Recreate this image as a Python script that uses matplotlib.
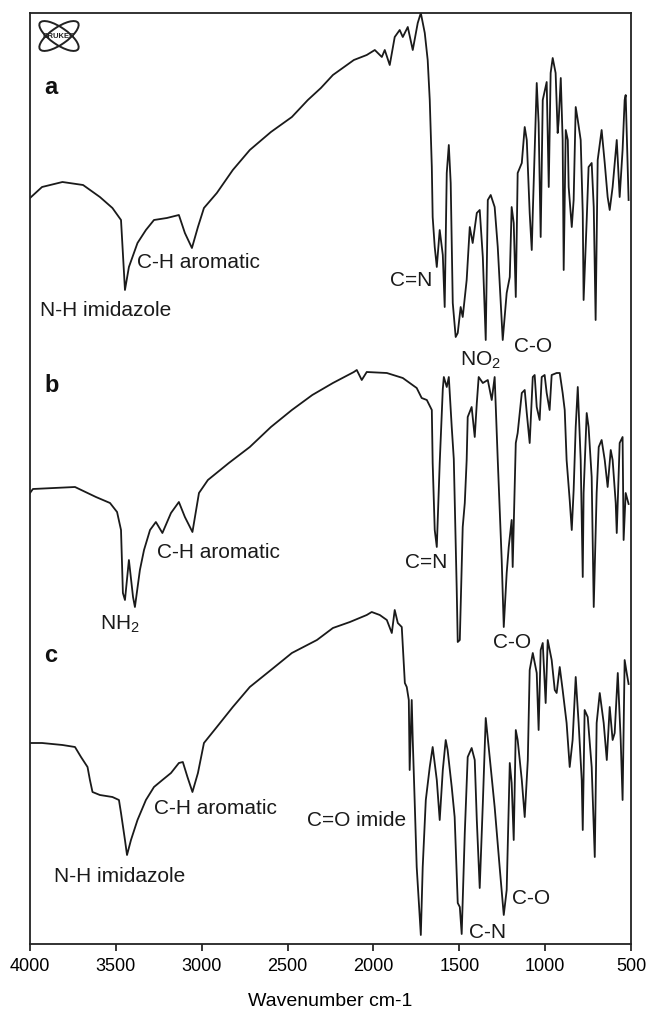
"""
plot.py
──────────
FT-IR spectra of three samples (a, b, c), stacked in one frame.
Saves out.png (648x1014).
"""

import matplotlib
matplotlib.use("Agg")
import matplotlib.pyplot as plt
from matplotlib.patches import Ellipse

plt.rcParams["font.family"] = ["Liberation Sans", "DejaVu Sans"]

# ── data (wavenumber cm-1, transmittance in arbitrary offset units) ──

a_wn = [4000, 3930, 3811, 3691, 3593, 3520, 3470, 3447, 3424, 3374,
        3325, 3278, 3203, 3133, 3098, 3057, 3022, 2987, 2912, 2819,
        2720, 2597, 2475, 2382, 2306, 2236, 2114, 2039, 1992, 1951,
        1934, 1905, 1876, 1847, 1829, 1800, 1771, 1742, 1724, 1701,
        1684, 1672, 1660, 1655, 1643, 1631, 1614, 1596, 1585, 1573,
        1561, 1550, 1538, 1521, 1509, 1492, 1480, 1457, 1439, 1422,
        1398, 1381, 1363, 1346, 1334, 1317, 1294, 1276, 1247, 1224,
        1206, 1195, 1183, 1171, 1160, 1136, 1119, 1107, 1090, 1078,
        1072, 1049, 1038, 1026, 1014, 991, 979, 968, 956, 939,
        927, 921, 909, 898, 892, 880, 868, 863, 845, 834,
        822, 810, 793, 781, 776, 758, 747, 729, 717, 706,
        694, 671, 653, 636, 624, 607, 583, 566, 549, 537,
        531, 514]
a_t = [746, 757, 762, 759, 747, 736, 724, 654, 677, 701,
       714, 724, 726, 729, 711, 696, 717, 736, 751, 774,
       794, 812, 827, 844, 856, 869, 884, 889, 894, 887,
       894, 879, 907, 914, 907, 917, 894, 921, 931, 911,
       884, 844, 777, 727, 697, 677, 714, 689, 637, 771,
       799, 761, 641, 607, 611, 637, 627, 664, 717, 701,
       731, 734, 687, 604, 744, 749, 737, 697, 604, 651,
       667, 737, 721, 647, 771, 781, 817, 804, 731, 694,
       731, 861, 821, 707, 844, 862, 757, 871, 886, 871,
       811, 824, 866, 804, 674, 814, 804, 757, 717, 744,
       837, 824, 804, 731, 644, 724, 777, 781, 737, 624,
       784, 814, 781, 747, 734, 757, 804, 747, 794, 844,
       849, 744]

b_wn = [4000, 3983, 3738, 3616, 3534, 3493, 3470, 3459, 3447, 3424,
        3400, 3389, 3360, 3336, 3301, 3267, 3229, 3179, 3133, 3098,
        3054, 3016, 2964, 2842, 2720, 2597, 2475, 2356, 2236, 2114,
        2097, 2068, 2039, 1922, 1829, 1748, 1719, 1689, 1660, 1655,
        1643, 1631, 1614, 1596, 1590, 1573, 1561, 1544, 1532, 1515,
        1509, 1497, 1480, 1468, 1457, 1451, 1428, 1410, 1398, 1387,
        1363, 1334, 1311, 1294, 1276, 1253, 1241, 1224, 1212, 1195,
        1189, 1171, 1160, 1136, 1119, 1107, 1090, 1072, 1061, 1049,
        1032, 1020, 1003, 991, 974, 962, 933, 915, 898, 886,
        875, 857, 845, 834, 822, 810, 793, 781, 776, 758,
        747, 729, 717, 700, 688, 671, 653, 636, 618, 607,
        589, 583, 566, 549, 543, 531, 514]
b_t = [451, 455, 457, 447, 441, 432, 414, 351, 344, 384,
       347, 337, 374, 394, 414, 422, 411, 431, 442, 427,
       412, 451, 464, 481, 497, 517, 534, 549, 561, 572,
       574, 564, 572, 571, 566, 556, 546, 544, 534, 481,
       414, 397, 481, 555, 567, 557, 567, 517, 485, 355,
       302, 304, 417, 441, 484, 527, 537, 507, 541, 567,
       561, 564, 544, 567, 484, 384, 317, 371, 397, 424,
       377, 501, 511, 551, 554, 531, 501, 567, 569, 537,
       524, 567, 569, 551, 534, 569, 571, 571, 551, 534,
       484, 444, 414, 454, 517, 557, 484, 367, 451, 531,
       517, 467, 337, 451, 497, 504, 484, 457, 494, 484,
       441, 411, 501, 507, 404, 451, 440]

c_wn = [4000, 3930, 3811, 3738, 3703, 3665, 3651, 3636, 3593, 3520,
        3482, 3470, 3447, 3435, 3412, 3374, 3325, 3278, 3229, 3179,
        3133, 3110, 3083, 3054, 3022, 2987, 2912, 2819, 2720, 2597,
        2475, 2329, 2236, 2137, 2039, 2010, 1963, 1922, 1893, 1876,
        1858, 1835, 1817, 1806, 1794, 1789, 1777, 1771, 1760, 1748,
        1724, 1713, 1695, 1672, 1655, 1631, 1614, 1596, 1579, 1568,
        1544, 1527, 1509, 1497, 1486, 1468, 1451, 1428, 1410, 1398,
        1381, 1363, 1346, 1323, 1294, 1264, 1241, 1224, 1206, 1195,
        1183, 1171, 1160, 1136, 1119, 1101, 1090, 1072, 1049, 1038,
        1026, 1014, 997, 985, 962, 944, 933, 915, 898, 875,
        857, 840, 822, 805, 787, 781, 770, 752, 729, 711,
        700, 682, 659, 641, 624, 607, 595, 577, 560, 549,
        537, 525, 514]
c_t = [201, 201, 199, 197, 187, 177, 164, 152, 149, 147,
       144, 131, 104, 89, 104, 124, 144, 157, 164, 171,
       181, 182, 167, 152, 171, 201, 217, 237, 257, 274,
       291, 304, 316, 322, 329, 332, 329, 324, 311, 334,
       321, 317, 261, 257, 244, 174, 244, 204, 144, 77,
       9, 77, 144, 177, 197, 164, 124, 174, 204, 194,
       157, 127, 41, 37, 10, 111, 187, 196, 184, 124,
       56, 140, 226, 187, 137, 75, 29, 54, 181, 161,
       104, 214, 204, 164, 127, 184, 274, 291, 271, 214,
       294, 301, 241, 304, 284, 254, 251, 277, 254, 221,
       177, 204, 267, 221, 164, 114, 234, 227, 177, 87,
       221, 251, 221, 184, 237, 204, 211, 271, 204, 144,
       284, 271, 260]

x_ticks = [4000, 3500, 3000, 2500, 2000, 1500, 1000, 500]

# band labels: (text, wavenumber, T, ha, va)
band_labels = [
    ("C-H aromatic", 3377, 681, "left", "center"),
    ("N-H imidazole", 3942, 634, "left", "center"),
    ("C=N", 1781, 664, "center", "center"),
    (r"$\mathregular{NO_2}$", 1379, 578, "center", "baseline"),
    ("C-O", 1071, 597, "center", "center"),
    ("C-H aromatic", 3260, 392, "left", "center"),
    (r"$\mathregular{NH_2}$", 3592, 314, "left", "baseline"),
    ("C=N", 1694, 381, "center", "center"),
    ("C-O", 1193, 302, "center", "center"),
    ("C-H aromatic", 3278, 136, "left", "center"),
    ("N-H imidazole", 3860, 67, "left", "center"),
    ("C=O imide", 2096, 124, "center", "center"),
    ("C-N", 1338, 11, "center", "center"),
    ("C-O", 1082, 46, "center", "center"),
]
panel_letters = [("a", 3918, 857), ("b", 3918, 559), ("c", 3918, 289)]


# ── figure ────────────────────────────────────────────────────

fig = plt.figure(figsize=(6.48, 10.14), dpi=100)
ax = fig.add_axes([30 / 648, 70 / 1014, 601 / 648, 931 / 1014])

for wn, t in [(a_wn, a_t), (b_wn, b_t), (c_wn, c_t)]:
    ax.plot(wn, t, color="#1a1a1a", linewidth=1.3)

ax.set_xlim(4000, 500)
ax.set_ylim(0, 931)
ax.set_xticks(x_ticks)
ax.set_xticklabels([str(v) for v in x_ticks])
ax.set_yticks([])
ax.tick_params(axis="x", direction="out", length=5, width=1.1,
               labelsize=13, pad=5)
for sp in ax.spines.values():
    sp.set_linewidth(1.3)
    sp.set_color("#222222")
ax.set_xlabel("Wavenumber cm-1", fontsize=14, labelpad=13)

for txt, x, y, ha, va in band_labels:
    ax.text(x, y, txt, fontsize=15, ha=ha, va=va, color="#1a1a1a")
for txt, x, y in panel_letters:
    ax.text(x, y, txt, fontsize=17, fontweight="bold", ha="left",
            va="center", color="#111111")

# ── instrument logo in the top-left corner ───────────────────
lg = fig.add_axes([28 / 648, (1014 - 56) / 1014, 62 / 648, 40 / 1014])
lg.set_xlim(-1, 1)
lg.set_ylim(-0.65, 0.65)
lg.axis("off")
for ang in (35, -35):
    lg.add_patch(Ellipse((0, 0), 1.5, 0.55, angle=ang, fill=False,
                         lw=1.4, color="#222222"))
lg.text(0, 0, "BRUKER", fontsize=5.5, fontweight="bold", ha="center",
        va="center", color="#222222")

fig.savefig("out.png", dpi=100)
